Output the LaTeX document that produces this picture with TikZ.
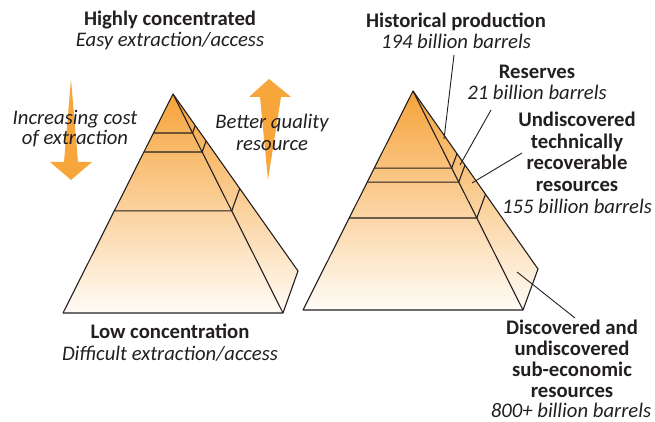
\documentclass[tikz,border=0pt]{standalone}
\usepackage{fontspec}
\setmainfont{Carlito}
\usetikzlibrary{calc}
\definecolor{ink}{RGB}{35,31,32}
\definecolor{org}{RGB}{247,166,60}
\definecolor{orgtop}{RGB}{246,163,58}
\definecolor{orgbot}{RGB}{255,252,247}
\begin{document}
\begin{tikzpicture}[x=1pt,y=-1pt,line join=round,
  lbl/.style={anchor=base,inner sep=0pt,text=ink},
  lb/.style={lbl,font=\fontsize{20.7}{21}\selectfont\bfseries},
  li/.style={lbl,font=\fontsize{20.7}{21}\selectfont\itshape},
  edge/.style={draw=ink,line width=1.1pt},
  leader/.style={draw=ink,line width=0.9pt},
  face/.style={top color=orgtop,bottom color=orgbot},
  bigarrow/.style={fill=org,draw=none}]
\useasboundingbox (0,0) rectangle (655,422);

% ---------- left pyramid ----------
\begin{scope}[shift={(173,94)},name prefix=L-]
  \coordinate (apex) at (0,0);
  \coordinate (bl) at (-110,219);
  \coordinate (br) at (110,219);
  \coordinate (bk) at (125,177);
  \shade[face] (apex) -- (bl) -- (br) -- cycle;
  \shade[face] (apex) -- (br) -- (bk) -- cycle;
  \foreach \f/\n in {0.178/a,0.265/b,0.534/c}{
    \coordinate (\n1) at ($(apex)!\f!(bl)$);
    \coordinate (\n2) at ($(apex)!\f!(br)$);
    \coordinate (\n3) at ($(apex)!\f!(bk)$);
    \draw[edge] (\n1) -- (\n2) -- (\n3);
  }
  \draw[edge] (bl) -- (apex) -- (bk) -- (br) -- cycle;
  \draw[edge] (apex) -- (br);
\end{scope}

% ---------- right pyramid ----------
\begin{scope}[shift={(413,91)},name prefix=R-]
  \coordinate (apex) at (0,0);
  \coordinate (bl) at (-110,219);
  \coordinate (br) at (110,219);
  \coordinate (bk) at (125,178);
  \shade[face] (apex) -- (bl) -- (br) -- cycle;
  \shade[face] (apex) -- (br) -- (bk) -- cycle;
  \foreach \f/\n in {0.352/a,0.416/b,0.580/c}{
    \coordinate (\n1) at ($(apex)!\f!(bl)$);
    \coordinate (\n2) at ($(apex)!\f!(br)$);
    \coordinate (\n3) at ($(apex)!\f!(bk)$);
    \draw[edge] (\n1) -- (\n2) -- (\n3);
  }
  \draw[edge] (bl) -- (apex) -- (bk) -- (br) -- cycle;
  \draw[edge] (apex) -- (br);
\end{scope}

% ---------- arrows ----------
\fill[bigarrow] (71,79) -- (78,162) -- (92,162) -- (71,180) -- (50,162) -- (64,162) -- cycle;
\fill[bigarrow] (269,79) -- (291,97) -- (281,97) -- (268,180) -- (260,97) -- (249,97) -- cycle;

% ---------- left texts ----------
\node[lb] (hc) at (170,26) {Highly concentrated};
\node[li] (ee) at (170,47) {Easy extraction/access};
\node[li] (ic1) at (75,125) {Increasing cost};
\node[li] (ic2) at (75,145) {of extraction};
\node[li] (bq1) at (272,129) {Better quality};
\node[li] (bq2) at (272,150) {resource};
\node[lb] (lc) at (170,338) {Low concentration};
\node[li] (de) at (170,360) {Difficult extraction/access};

% ---------- right texts ----------
\node[lb] (hp1) at (456,28) {Historical production};
\node[li] (hp2) at (456,49) {194 billion barrels};
\node[lb] (rs1) at (537,79) {Reserves};
\node[li] (rs2) at (537,100) {21 billion barrels};
\node[lb] (ut1) at (577,127) {Undiscovered};
\node[lb] (ut2) at (577,149) {technically};
\node[lb] (ut3) at (577,170) {recoverable};
\node[lb] (ut4) at (577,191) {resources};
\node[li] (ut5) at (577,213) {155 billion barrels};
\node[lb] (du1) at (572,334) {Discovered and};
\node[lb] (du2) at (572,355) {undiscovered};
\node[lb] (du3) at (572,376) {sub-economic};
\node[lb] (du4) at (572,397) {resources};
\node[li] (du5) at (571,417) {800+ billion barrels};

% ---------- leaders ----------
\coordinate (hpS) at (454,55);
\coordinate (hpE) at (444,139);
\coordinate (rsS) at (491,110);
\coordinate (rsE) at (460,165);
\coordinate (utS) at (522,153);
\coordinate (utE) at (472,183);
\coordinate (duS) at (575,318);
\coordinate (duE) at (517,272);
\draw[leader] (hpS) -- (hpE);
\draw[leader] (rsS) -- (rsE);
\draw[leader] (utS) -- (utE);
\draw[leader] (duS) -- (duE);
\end{tikzpicture}
\end{document}
